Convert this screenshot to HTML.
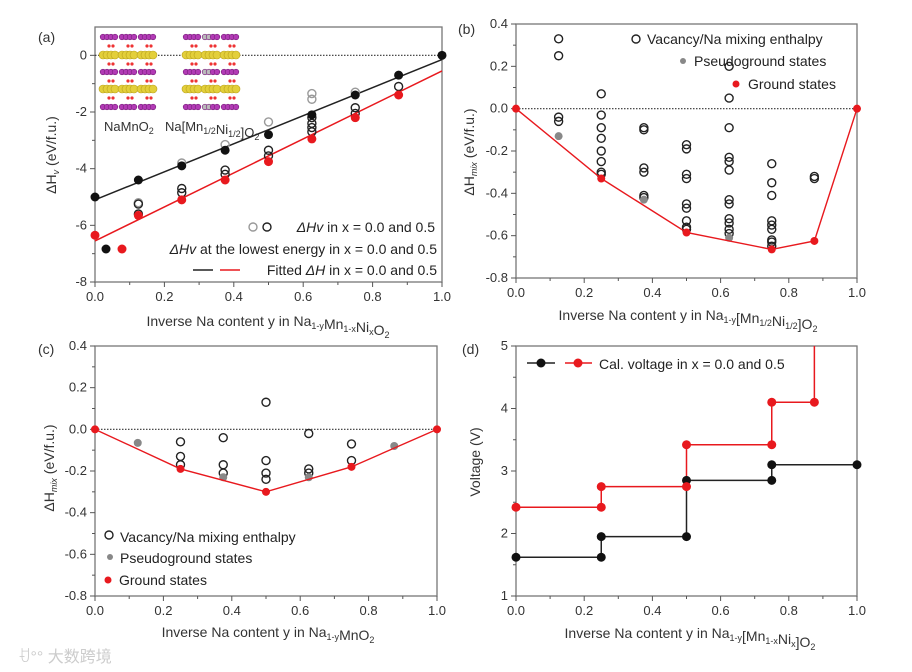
<!DOCTYPE html>
<html><head><meta charset="utf-8">
<style>
body{margin:0;background:#fff;}
svg{display:block;font-family:"Liberation Sans","Noto Sans CJK SC",sans-serif;}
.tk{font-size:13px;fill:#333;}
.ttl{font-size:14px;fill:#333;}
.lg{font-size:14px;fill:#222;}
</style></head>
<body>
<svg id="fig" width="912" height="672" viewBox="0 0 912 672" xmlns="http://www.w3.org/2000/svg"></svg>
<script>
// ---- panel (a) data ----
const aCatX=[0,0.125,0.25,0.375,0.5,0.625,0.75,0.875,1];
const aBlackLowest=[-5.0,-4.4,-3.9,-3.35,-2.8,-2.1,-1.4,-0.7,0];
const aRedLowestX=[0,0.125,0.25,0.375,0.5,0.625,0.75,0.875];
const aRedLowest=[-6.35,-5.65,-5.1,-4.4,-3.75,-2.95,-2.2,-1.4];
const aGreyOpenX=[0.125,0.25,0.375,0.5,0.625,0.625,0.75];
const aGreyOpen=[-5.2,-3.8,-3.15,-2.35,-1.35,-1.55,-1.3];
const aBlackOpenX=[0.125,0.125,0.25,0.25,0.375,0.375,0.5,0.5,0.625,0.625,0.625,0.625,0.75,0.75,0.875];
const aBlackOpen=[-5.25,-5.6,-4.7,-4.85,-4.05,-4.2,-3.35,-3.55,-2.2,-2.4,-2.55,-2.7,-1.85,-2.05,-1.1];
const aFitBlack=[-5.1,-0.15];
const aFitRed=[-6.55,-0.55];
const aYTicks=[0,-2,-4,-6,-8];
// ---- panel (b) data ----
const bOpenX=[0.125,0.125,0.125,0.125,0.25,0.25,0.25,0.25,0.25,0.25,0.25,0.25,0.375,0.375,0.375,0.375,0.375,0.375,0.5,0.5,0.5,0.5,0.5,0.5,0.5,0.5,0.5,0.625,0.625,0.625,0.625,0.625,0.625,0.625,0.625,0.625,0.625,0.625,0.625,0.75,0.75,0.75,0.75,0.75,0.75,0.75,0.75,0.75,0.875,0.875];
const bOpenY=[0.33,0.25,-0.04,-0.06,0.07,-0.03,-0.09,-0.14,-0.2,-0.25,-0.3,-0.31,-0.09,-0.1,-0.28,-0.3,-0.41,-0.42,-0.17,-0.19,-0.31,-0.33,-0.45,-0.47,-0.53,-0.56,-0.57,0.2,0.05,-0.09,-0.23,-0.25,-0.29,-0.43,-0.45,-0.52,-0.54,-0.57,-0.59,-0.26,-0.35,-0.41,-0.53,-0.55,-0.57,-0.62,-0.63,-0.65,-0.32,-0.33];
const bPseudoX=[0.125,0.375,0.625];
const bPseudoY=[-0.13,-0.43,-0.61];
const bGroundX=[0,0.25,0.5,0.75,0.875,1];
const bGroundY=[0,-0.33,-0.585,-0.665,-0.625,0];
const mixYTicks=[0.4,0.2,0,-0.2,-0.4,-0.6,-0.8];
// ---- panel (c) data ----
const cOpenX=[0.25,0.25,0.25,0.375,0.375,0.375,0.5,0.5,0.5,0.5,0.625,0.625,0.625,0.75,0.75];
const cOpenY=[-0.06,-0.13,-0.17,-0.04,-0.17,-0.21,0.13,-0.15,-0.21,-0.24,-0.02,-0.19,-0.21,-0.07,-0.15];
const cPseudoX=[0.125,0.375,0.625,0.875];
const cPseudoY=[-0.065,-0.23,-0.23,-0.08];
const cGroundX=[0,0.25,0.5,0.75,1];
const cGroundY=[0,-0.19,-0.3,-0.18,0];
// ---- panel (d) data ----
const dStepX=[0,0.25,0.5,0.75,1];
const dBlackV=[1.62,1.95,2.85,3.1];
const dRedStepX=[0,0.25,0.5,0.75,0.875];
const dRedV=[2.42,2.75,3.42,4.1];
const dRedTop=5;
const dYTicks=[1,2,3,4,5];
const xTicks=[0,0.2,0.4,0.6,0.8,1.0];

const NS="http://www.w3.org/2000/svg";
const fig=document.getElementById('fig');
function el(tag,attrs,parent,txt){const e=document.createElementNS(NS,tag);for(const k in attrs)e.setAttribute(k,attrs[k]);if(txt!==undefined)e.textContent=txt;(parent||fig).appendChild(e);return e;}

function makeAxes(name,x0,x1,yTop,yBot,ymin,ymax,yticks,yfmt,minorY,ttlX,ttlY,ttlHTML,ylab,ylabX,ylabY,letter,lx,ly){
  const g=el('g',{});
  
  
  const sx=v=>x0+(x1-x0)*v;
  const sy=v=>yBot-(yBot-yTop)*(v-ymin)/(ymax-ymin);
  el('rect',{x:x0,y:yTop,width:x1-x0,height:yBot-yTop,fill:'none',stroke:'#777','stroke-width':1.3},g);
  for(const t of xTicks){el('line',{x1:sx(t),x2:sx(t),y1:yBot,y2:yBot+5,stroke:'#555'},g);
    const tl=el('text',{x:sx(t),y:yBot+19,'text-anchor':'middle',class:'tk'},g,t.toFixed(1));
    }
  for(let t=0.1;t<1;t+=0.2)el('line',{x1:sx(t),x2:sx(t),y1:yBot,y2:yBot+3,stroke:'#555'},g);
  for(const t of yticks){el('line',{x1:x0-5,x2:x0,y1:sy(t),y2:sy(t),stroke:'#555'},g);
    const tl=el('text',{x:x0-8,y:sy(t)+4,'text-anchor':'end',class:'tk'},g,yfmt(t));
    }
  for(let i=0;i<yticks.length-1;i++){const m=(yticks[i]+yticks[i+1])/2;el('line',{x1:x0-3,x2:x0,y1:sy(m),y2:sy(m),stroke:'#555'},g);}
  const xt=el('text',{x:ttlX,y:ttlY,'text-anchor':'middle',class:'ttl'},g);
  xt.innerHTML=ttlHTML;
  
  const yt=el('text',{x:ylabX,y:ylabY,'text-anchor':'middle',class:'ttl',transform:`rotate(-90 ${ylabX} ${ylabY})`},g);
  yt.innerHTML=ylab;
  
  const lt=el('text',{x:lx,y:ly,class:'ttl'},g,letter);
  
  return {g,sx,sy};
}
function dot(g,x,y,r,fill,stroke,name){const c=el('circle',{cx:x,cy:y,r:r,fill:fill,stroke:stroke||'none','stroke-width':1.4},g);return c;}
function poly(g,pts,color,w,name,dash){const p=el('polyline',{points:pts.map(p=>p.join(',')).join(' '),fill:'none',stroke:color,'stroke-width':w},g);if(dash)p.setAttribute('stroke-dasharray',dash);return p;}
const sub=s=>`<tspan dy="3" font-size="9">${s}</tspan><tspan dy="-3"></tspan>`;
const RED='#e8191e';

// ===== Panel (a) =====
{
const A=makeAxes('panel-a',95,442,27,282,-8,1,aYTicks,t=>t.toFixed(0),true,268,326,
 'Inverse Na content y in Na'+sub('1-y')+'Mn'+sub('1-x')+'Ni'+sub('x')+'O'+sub('2'),
 'ΔH<tspan font-style="italic" dy="3" font-size="9">v</tspan><tspan dy="-3">  (eV/f.u.)</tspan>',56,155,'(a)',38,42);
const g=A.g,sx=A.sx,sy=A.sy;
poly(g,[[sx(0),sy(0)],[sx(1),sy(0)]],'#333',1.2,'zero-line','1.5,1.5');
const ins=el('g',{},g);
const rowsY=[37,55,72,89,107];
[[103,3],[186,3]].forEach(([bx],si)=>{
  rowsY.forEach((ry,ri)=>{
    const yellow=ri%2===1;
    for(let grp=0;grp<3;grp++)for(let k=0;k<4;k++){
      const cx=bx+grp*19+k*4;
      el('circle',{cx:cx,cy:ry,r:yellow?4:2.8,fill:yellow?'#e3cf3a':(si===1&&k<2&&grp===1?'#bbb':'#b23bb5'),stroke:yellow?'#b9a21d':'#7a1d7d','stroke-width':0.6},ins);
    }
    if(ri<4){for(let grp=0;grp<3;grp++){el('circle',{cx:bx+grp*19+6,cy:ry+9,r:1.6,fill:'#e33'},ins);el('circle',{cx:bx+grp*19+10,cy:ry+9,r:1.6,fill:'#e33'},ins);}}
  });
});
const l1=el('text',{x:104,y:131,class:'tk'},ins);l1.innerHTML='NaMnO'+sub('2');
const l2=el('text',{x:165,y:131,class:'tk'},ins);l2.innerHTML='Na[Mn'+sub('1/2')+'Ni'+sub('1/2')+']O'+sub('2');
poly(g,[[sx(0),sy(aFitBlack[0])],[sx(1),sy(aFitBlack[1])]],'#222',1.5,'fit-line-x0');
poly(g,[[sx(0),sy(aFitRed[0])],[sx(1),sy(aFitRed[1])]],RED,1.5,'fit-line-x05');
aGreyOpenX.forEach((x,i)=>dot(g,sx(x),sy(aGreyOpen[i]),4,'none','#999','open-point-x0'));
aBlackOpenX.forEach((x,i)=>dot(g,sx(x),sy(aBlackOpen[i]),4,'none','#222','open-point-x05'));
aCatX.forEach((x,i)=>dot(g,sx(x),sy(aBlackLowest[i]),4.5,'#111',null,'lowest-point-x0'));
aRedLowestX.forEach((x,i)=>dot(g,sx(x),sy(aRedLowest[i]),4.5,RED,null,'lowest-point-x05'));
const lg=el('g',{},g);
dot(lg,253,227,4,'none','#999','legend-open-grey');dot(lg,267,227,4,'none','#222','legend-open-black');
el('text',{x:435,y:232,'text-anchor':'end',class:'lg'},lg).innerHTML='<tspan font-style="italic">ΔHv</tspan> in x = 0.0 and 0.5';
dot(lg,106,249,4.5,'#111',null,'legend-black-dot');dot(lg,122,249,4.5,RED,null,'legend-red-dot');
el('text',{x:437,y:254,'text-anchor':'end',class:'lg'},lg).innerHTML='<tspan font-style="italic">ΔHv</tspan> at the lowest energy in x = 0.0 and 0.5';
el('line',{x1:193,x2:213,y1:270,y2:270,stroke:'#222','stroke-width':1.5},lg);
el('line',{x1:220,x2:240,y1:270,y2:270,stroke:RED,'stroke-width':1.5},lg);
el('text',{x:437,y:275,'text-anchor':'end',class:'lg'},lg).innerHTML='Fitted <tspan font-style="italic">ΔH</tspan> in x = 0.0 and 0.5';
}

// ===== Panel (b) =====
{
const B=makeAxes('panel-b',516,857,24,278,-0.8,0.4,mixYTicks,t=>t.toFixed(1),true,688,320,
 'Inverse Na content y in Na'+sub('1-y')+'[Mn'+sub('1/2')+'Ni'+sub('1/2')+']O'+sub('2'),
 'ΔH<tspan font-style="italic" dy="3" font-size="9">mix</tspan><tspan dy="-3">  (eV/f.u.)</tspan>',474,152,'(b)',458,34);
const g=B.g,sx=B.sx,sy=B.sy;
poly(g,[[sx(0),sy(0)],[sx(1),sy(0)]],'#333',1.2,'zero-line','1.5,1.5');
bOpenX.forEach((x,i)=>dot(g,sx(x),sy(bOpenY[i]),4,'none','#222','vacancy-mixing-point'));
bPseudoX.forEach((x,i)=>dot(g,sx(x),sy(bPseudoY[i]),4,'#888',null,'pseudoground-point'));
poly(g,bGroundX.map((x,i)=>[sx(x),sy(bGroundY[i])]),RED,1.4,'ground-hull-line');
bGroundX.forEach((x,i)=>dot(g,sx(x),sy(bGroundY[i]),4,RED,null,'ground-state-point'));
const lg=el('g',{},g);
dot(lg,636,39,4,'none','#222','legend-open');el('text',{x:647,y:44,class:'lg'},lg,'Vacancy/Na mixing enthalpy');
dot(lg,683,61,3,'#888',null,'legend-pseudo');el('text',{x:694,y:66,class:'lg'},lg,'Pseudoground states');
dot(lg,736,84,3.5,RED,null,'legend-ground');el('text',{x:748,y:89,class:'lg'},lg,'Ground states');
}

// ===== Panel (c) =====
{
const C=makeAxes('panel-c',95,437,346,596,-0.8,0.4,mixYTicks,t=>t.toFixed(1),true,268,637,
 'Inverse Na content y in Na'+sub('1-y')+'MnO'+sub('2'),
 'ΔH<tspan font-style="italic" dy="3" font-size="9">mix</tspan><tspan dy="-3">  (eV/f.u.)</tspan>',54,468,'(c)',38,354);
const g=C.g,sx=C.sx,sy=C.sy;
poly(g,[[sx(0),sy(0)],[sx(1),sy(0)]],'#333',1.2,'zero-line','1.5,1.5');
cOpenX.forEach((x,i)=>dot(g,sx(x),sy(cOpenY[i]),4,'none','#222','vacancy-mixing-point'));
cPseudoX.forEach((x,i)=>dot(g,sx(x),sy(cPseudoY[i]),4,'#888',null,'pseudoground-point'));
poly(g,cGroundX.map((x,i)=>[sx(x),sy(cGroundY[i])]),RED,1.4,'ground-hull-line');
cGroundX.forEach((x,i)=>dot(g,sx(x),sy(cGroundY[i]),4,RED,null,'ground-state-point'));
const lg=el('g',{},g);
dot(lg,109,535,4,'none','#222','legend-open');el('text',{x:120,y:542,class:'lg'},lg,'Vacancy/Na mixing enthalpy');
dot(lg,110,557,3,'#888',null,'legend-pseudo');el('text',{x:120,y:563,class:'lg'},lg,'Pseudoground states');
dot(lg,108,580,3.5,RED,null,'legend-ground');el('text',{x:119,y:585,class:'lg'},lg,'Ground states');
const wm=el('text',{x:18,y:662,'font-size':16,fill:'#ccc'},fig,'ꀀ°° 大数跨境');

}

// ===== Panel (d) =====
{
const D=makeAxes('panel-d',516,857,346,596,1,5,dYTicks,t=>t.toFixed(0),true,690,638,
 'Inverse Na content y in Na'+sub('1-y')+'[Mn'+sub('1-x')+'Ni'+sub('x')+']O'+sub('2'),
 'Voltage (V)',480,462,'(d)',462,354);
const g=D.g,sx=D.sx,sy=D.sy;
function steps(X,V,top){const pts=[];for(let i=0;i<V.length;i++){pts.push([sx(X[i]),sy(V[i])]);pts.push([sx(X[i+1]),sy(V[i])]);}if(top!==undefined)pts.push([sx(X[X.length-1]),sy(top)]);return pts;}
poly(g,steps(dStepX,dBlackV),'#222',1.5,'voltage-step-x0');
poly(g,steps(dRedStepX,dRedV,dRedTop),RED,1.5,'voltage-step-x05');
for(let i=0;i<dBlackV.length;i++){dot(g,sx(dStepX[i]),sy(dBlackV[i]),4.5,'#111',null,'voltage-point-x0');dot(g,sx(dStepX[i+1]),sy(dBlackV[i]),4.5,'#111',null,'voltage-point-x0');}
for(let i=0;i<dRedV.length;i++){dot(g,sx(dRedStepX[i]),sy(dRedV[i]),4.5,RED,null,'voltage-point-x05');dot(g,sx(dRedStepX[i+1]),sy(dRedV[i]),4.5,RED,null,'voltage-point-x05');}
const lg=el('g',{},g);
el('line',{x1:527,x2:555,y1:363,y2:363,stroke:'#222','stroke-width':1.5},lg);dot(lg,541,363,4.5,'#111',null,'legend-black');
el('line',{x1:565,x2:592,y1:363,y2:363,stroke:RED,'stroke-width':1.5},lg);dot(lg,578,363,4.5,RED,null,'legend-red');
el('text',{x:599,y:369,class:'lg'},lg,'Cal. voltage in x = 0.0 and 0.5');
}
</script>
</body></html>
